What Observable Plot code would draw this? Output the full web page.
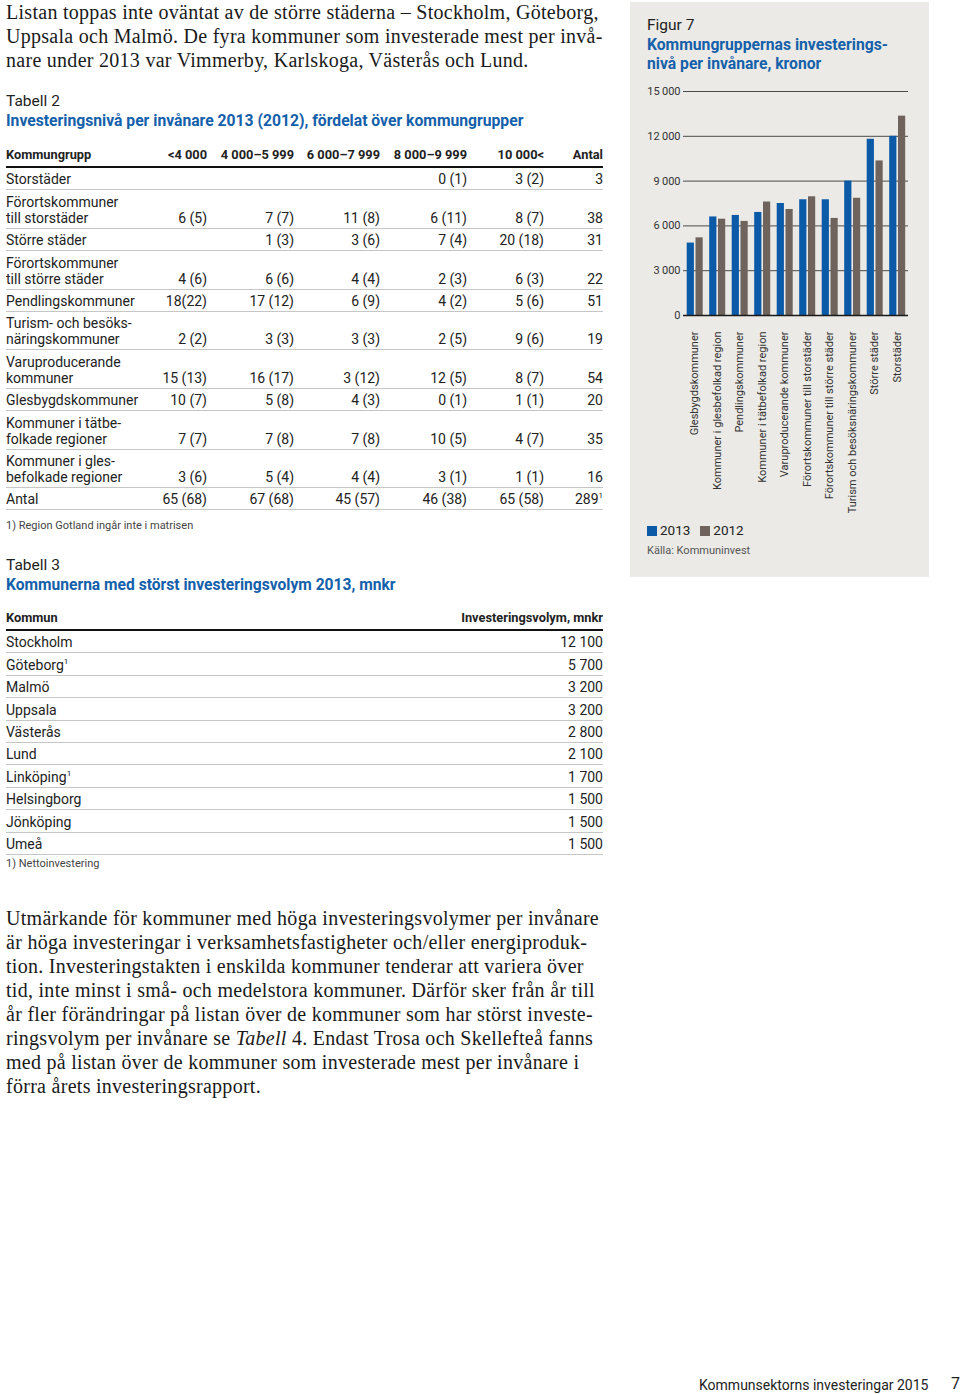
<!DOCTYPE html>
<html>
<head>
<meta charset="utf-8">
<script src="https://cdn.jsdelivr.net/npm/d3@7"></script>
<script src="https://cdn.jsdelivr.net/npm/@observablehq/plot@0.6"></script>
<style>
  html, body { margin: 0; padding: 0; background: #fff; }
  body { width: 960px; height: 1394px; position: relative; overflow: hidden; font-family: Roboto, "Noto Sans", sans-serif; color: #222; }
  .abs { position: absolute; white-space: nowrap; }
  .serif { font-family: "Liberation Serif", "DejaVu Serif", serif; font-size: 20px; letter-spacing: 0.28px; line-height: 24px; color: #1a1a1a; }
  .lbl { font-size: 15.5px; line-height: 19px; color: #222; }
  .ttl { font-size: 15.7px; line-height: 19px; font-weight: 700; color: #1460aa; }
  .note { font-size: 11px; line-height: 14px; color: #444; }
  table.t { position: absolute; left: 6px; border-collapse: collapse; table-layout: fixed; font-size: 14px; color: #222; }
  table.t th { font-size: 12.8px; font-weight: 700; line-height: 14px; padding: 0 0 4px 0; text-align: right; vertical-align: bottom; border-bottom: 2px solid #111; white-space: nowrap; }
  table.t td { line-height: 16px; padding: 3.4px 0 2px 0; text-align: right; vertical-align: bottom; border-bottom: 1px solid #c6c6c6; white-space: nowrap; }
  table.t th:first-child, table.t td:first-child { text-align: left; }
  #panel { position: absolute; left: 630px; top: 2px; width: 299px; height: 575px; background: #ebeae6; }
  #chart { position: absolute; left: 630px; top: 80px; }
  .sw { display: inline-block; width: 10px; height: 10px; vertical-align: -1px; margin-right: 3px; }
</style>
</head>
<body>
<div id="panel"></div>

<div class="abs serif" style="left:6px; top:0px;">Listan toppas inte oväntat av de större städerna – Stockholm, Göteborg,<br>Uppsala och Malmö. De fyra kommuner som investerade mest per invå-<br>nare under 2013 var Vimmerby, Karlskoga, Västerås och Lund.</div>

<div class="abs lbl" style="left:6px; top:92px;">Tabell 2</div>
<div class="abs ttl" style="left:6px; top:111px;">Investeringsnivå per invånare 2013 (2012), fördelat över kommungrupper</div>
<table class="t" id="t2" style="top:148px; width:597px;"></table>
<div class="abs note" style="left:6px; top:519px;">1) Region Gotland ingår inte i matrisen</div>

<div class="abs lbl" style="left:6px; top:556px;">Tabell 3</div>
<div class="abs ttl" style="left:6px; top:576px; font-size:15.6px;">Kommunerna med störst investeringsvolym 2013, mnkr</div>
<table class="t" id="t3" style="top:611px; width:597px;"></table>
<div class="abs note" style="left:6px; top:857px;">1) Nettoinvestering</div>

<div class="abs serif" style="left:6px; top:906px;">Utmärkande för kommuner med höga investeringsvolymer per invånare<br>är höga investeringar i verksamhetsfastigheter och/eller energiproduk-<br>tion. Investeringstakten i enskilda kommuner tenderar att variera över<br>tid, inte minst i små- och medelstora kommuner. Därför sker från år till<br>år fler förändringar på listan över de kommuner som har störst investe-<br>ringsvolym per invånare se <i>Tabell</i> 4. Endast Trosa och Skellefteå fanns<br>med på listan över de kommuner som investerade mest per invånare i<br>förra årets investeringsrapport.</div>

<div class="abs lbl" style="left:647px; top:16px;">Figur 7</div>
<div class="abs ttl" style="left:647px; top:35px;">Kommungruppernas investerings-<br>nivå per invånare, kronor</div>
<div id="chart"></div>
<div class="abs" style="left:647px; top:522px; font-size:13.5px; line-height:17px; color:#222;"><span class="sw" style="background:#0b5aa8"></span>2013<span style="display:inline-block;width:10px"></span><span class="sw" style="background:#6e635d"></span>2012</div>
<div class="abs note" style="left:647px; top:544px; color:#555;">Källa: Kommuninvest</div>

<div class="abs" style="left:699px; top:1376px; font-size:14px; line-height:18px; color:#222;">Kommunsektorns investeringar 2015</div>
<div class="abs" style="left:951px; top:1374px; font-size:16px; line-height:20px; color:#222;">7</div>

<script>
// ---- Figure 7 data ----
const groups = [
  "Glesbygdskommuner",
  "Kommuner i glesbefolkad region",
  "Pendlingskommuner",
  "Kommuner i tätbefolkad region",
  "Varuproducerande kommuner",
  "Förortskommuner till storstäder",
  "Förortskommuner till större städer",
  "Turism och besöksnäringskommuner",
  "Större städer",
  "Storstäder"
];
const values2013 = [4850, 6600, 6700, 6900, 7500, 7750, 7750, 9000, 11800, 12000];
const values2012 = [5200, 6450, 6300, 7600, 7100, 7950, 6500, 7850, 10350, 13350];
const yTicks = [0, 3000, 6000, 9000, 12000, 15000];

// ---- Tabell 2 data ----
const t2Headers = ["Kommungrupp", "<4 000", "4 000–5 999", "6 000–7 999", "8 000–9 999", "10 000<", "Antal"];
const t2Labels = [
  ["Storstäder"],
  ["Förortskommuner", "till storstäder"],
  ["Större städer"],
  ["Förortskommuner", "till större städer"],
  ["Pendlingskommuner"],
  ["Turism- och besöks-", "näringskommuner"],
  ["Varuproducerande", "kommuner"],
  ["Glesbygdskommuner"],
  ["Kommuner i tätbe-", "folkade regioner"],
  ["Kommuner i gles-", "befolkade regioner"],
  ["Antal"]
];
const t2Cells = [
  ["", "", "", "0 (1)", "3 (2)", "3"],
  ["6 (5)", "7 (7)", "11 (8)", "6 (11)", "8 (7)", "38"],
  ["", "1 (3)", "3 (6)", "7 (4)", "20 (18)", "31"],
  ["4 (6)", "6 (6)", "4 (4)", "2 (3)", "6 (3)", "22"],
  ["18(22)", "17 (12)", "6 (9)", "4 (2)", "5 (6)", "51"],
  ["2 (2)", "3 (3)", "3 (3)", "2 (5)", "9 (6)", "19"],
  ["15 (13)", "16 (17)", "3 (12)", "12 (5)", "8 (7)", "54"],
  ["10 (7)", "5 (8)", "4 (3)", "0 (1)", "1 (1)", "20"],
  ["7 (7)", "7 (8)", "7 (8)", "10 (5)", "4 (7)", "35"],
  ["3 (6)", "5 (4)", "4 (4)", "3 (1)", "1 (1)", "16"],
  ["65 (68)", "67 (68)", "45 (57)", "46 (38)", "65 (58)", "289<sup>1</sup>"]
];

// ---- Tabell 3 data ----
const t3Headers = ["Kommun", "Investeringsvolym, mnkr"];
const t3Kommuner = ["Stockholm", "Göteborg<sup>1</sup>", "Malmö", "Uppsala", "Västerås", "Lund", "Linköping<sup>1</sup>", "Helsingborg", "Jönköping", "Umeå"];
const t3Volym = ["12 100", "5 700", "3 200", "3 200", "2 800", "2 100", "1 700", "1 500", "1 500", "1 500"];

// build tables
(function () {
  const t2 = document.getElementById("t2");
  const widths = [144, 57, 87, 86, 87, 77, 59];
  let html = "<colgroup>" + widths.map(w => `<col style="width:${w}px">`).join("") + "</colgroup>";
  html += "<tr>" + t2Headers.map(h => `<th>${h.replace("<4", "&lt;4").replace("000<", "000&lt;")}</th>`).join("") + "</tr>";
  t2Labels.forEach((lab, i) => {
    html += "<tr><td>" + lab.join("<br>") + "</td>" + t2Cells[i].map(c => `<td>${c}</td>`).join("") + "</tr>";
  });
  t2.innerHTML = html;

  const t3 = document.getElementById("t3");
  let h3 = "<colgroup><col style='width:400px'><col style='width:197px'></colgroup>";
  h3 += "<tr>" + t3Headers.map(h => `<th>${h}</th>`).join("") + "</tr>";
  t3Kommuner.forEach((k, i) => { h3 += `<tr><td>${k}</td><td>${t3Volym[i]}</td></tr>`; });
  t3.innerHTML = h3;
  document.querySelectorAll("sup").forEach(s => { s.style.fontSize = "8px"; s.style.verticalAlign = "6px"; s.style.lineHeight = "0"; });
})();

// chart
const rows = groups.flatMap((g, i) => [
  {group: g, year: "2013", value: values2013[i]},
  {group: g, year: "2012", value: values2012[i]}
]);
const fmt = d => d3.format(",")(d).replace(/,/g, "\u2009");

const chart = Plot.plot({
  width: 300,
  height: 435,
  marginTop: 11,
  marginBottom: 200,
  marginLeft: 53,
  marginRight: 22,
  style: {background: "transparent", fontFamily: "Roboto, sans-serif", fontSize: "11px", color: "#333", overflow: "visible"},
  x: {domain: groups, padding: 0, round: false, label: null},
  y: {domain: [0, 15000], label: null},
  marks: [
    Plot.ruleY(yTicks.filter(d => d > 0), {stroke: "#4a4a4a", strokeWidth: 1}),
    Plot.barY(rows.filter(d => d.year === "2013"), {x: "group", y: "value", fill: "#0b5aa8", insetLeft: 3.7, insetRight: 11.6}),
    Plot.barY(rows.filter(d => d.year === "2012"), {x: "group", y: "value", fill: "#6e635d", insetLeft: 12.5, insetRight: 2.8}),
    Plot.ruleY([0], {stroke: "#1a1a1a", strokeWidth: 1.6}),
    Plot.axisY({ticks: yTicks, tickSize: 0, tickPadding: 3, tickFormat: fmt, label: null}),
    Plot.axisX({tickRotate: -90, tickSize: 0, tickPadding: 16, label: null})
  ]
});
document.getElementById("chart").appendChild(chart);
</script>
</body>
</html>
